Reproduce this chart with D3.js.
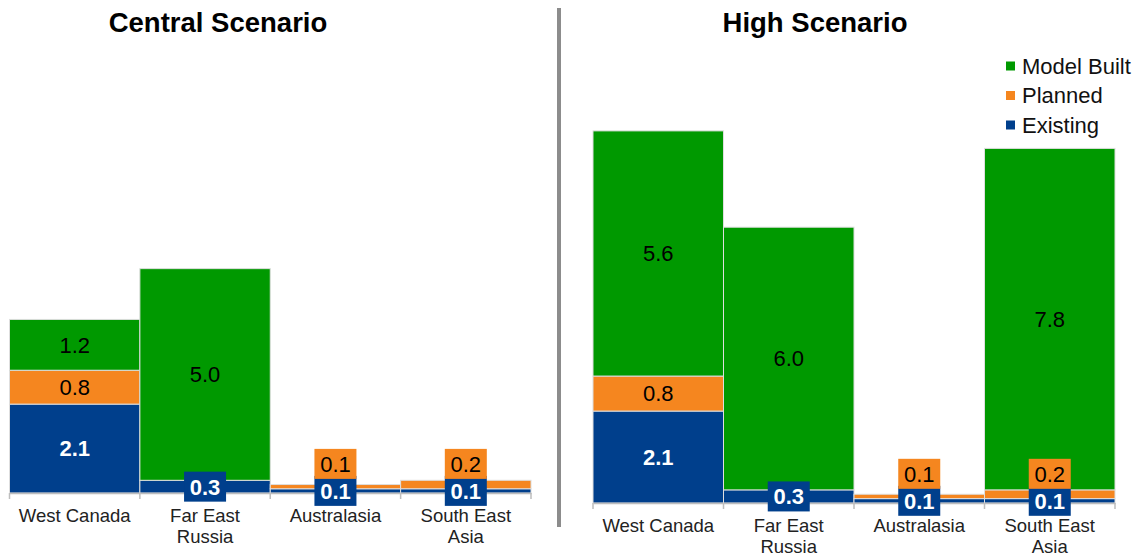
<!DOCTYPE html>
<html>
<head>
<meta charset="utf-8">
<script src="https://cdn.jsdelivr.net/npm/d3@7"></script>
<style>
  html, body { margin: 0; padding: 0; background: #fff; }
  svg { display: block; font-family: Arial, "Liberation Sans", sans-serif; }
</style>
</head>
<body>
<svg id="chart" width="1142" height="556"></svg>
<script>
// Regions shown on the x axis (label lines)
const categories = ["West Canada", "Far East Russia", "Australasia", "South East Asia"];
const categoryLines = [["West Canada"], ["Far East", "Russia"], ["Australasia"], ["South East", "Asia"]];

// Series, stacked bottom to top
const seriesNames = ["Existing", "Planned", "Model Built"];
const seriesColors = ["#003f8c", "#f5861f", "#009900"];

// Central scenario values
const centralExisting = [2.1, 0.3, 0.1, 0.1];
const centralPlanned = [0.8, 0.0, 0.1, 0.2];
const centralModel = [1.2, 5.0, 0.0, 0.0];

// High scenario values
const highExisting = [2.1, 0.3, 0.1, 0.1];
const highPlanned = [0.8, 0.0, 0.1, 0.2];
const highModel = [5.6, 6.0, 0.0, 7.8];

const panelTitles = ["Central Scenario", "High Scenario"];

const svg = d3.select("#chart");

function buildRows(existing, planned, model) {
  return categories.map((c, i) => ({
    category: c, "Existing": existing[i], "Planned": planned[i], "Model Built": model[i]
  }));
}

const panels = [
  { title: panelTitles[0], rows: buildRows(centralExisting, centralPlanned, centralModel),
    x0: 9.5, x1: 531, base: 493, top: 112, titleX: 218 },
  { title: panelTitles[1], rows: buildRows(highExisting, highPlanned, highModel),
    x0: 593, x1: 1115, base: 503, top: 109, titleX: 815 }
];

const stack = d3.stack().keys(seriesNames);
const boxW = 42, boxH = 30;

panels.forEach(p => {
  const g = svg.append("g");
  const x = d3.scaleBand().domain(categories).range([p.x0, p.x1]).padding(0);
  const y = d3.scaleLinear().domain([0, 9]).range([p.base, p.top]);
  const layers = stack(p.rows);

  // Title
  g.append("text")
    .attr("x", p.titleX).attr("y", 32)
    .attr("text-anchor", "middle")
    .attr("font-size", 27.5).attr("font-weight", "bold").attr("fill", "#000")
    .text(p.title);

  // Stacked segments
  layers.forEach((layer, li) => {
    g.append("g").selectAll("rect")
      .data(layer.filter(d => d[1] - d[0] > 0))
      .join("rect")
      .attr("x", d => x(d.data.category))
      .attr("width", x.bandwidth())
      .attr("y", d => y(d[1]))
      .attr("height", d => y(d[0]) - y(d[1]))
      .attr("fill", seriesColors[li])
      .attr("stroke", "#dedede")
      .attr("stroke-width", 1);
  });

  // Axis
  const axis = d3.axisBottom(x).tickSize(0).tickFormat("");
  const ag = g.append("g").attr("transform", `translate(0,${p.base})`).call(axis);
  ag.select(".domain").attr("stroke", "#bdbdbd").attr("stroke-width", 1.5);
  const bounds = d3.range(categories.length + 1).map(i => i === categories.length ? p.x1 : x(categories[i]));
  ag.selectAll("line.sep").data(bounds).join("line")
    .attr("class", "sep")
    .attr("x1", d => d).attr("x2", d => d)
    .attr("y1", 0).attr("y2", 6)
    .attr("stroke", "#bdbdbd").attr("stroke-width", 1.5);

  // Category labels
  categories.forEach((c, i) => {
    const t = g.append("text")
      .attr("x", x(c) + x.bandwidth() / 2)
      .attr("y", p.base + 29)
      .attr("text-anchor", "middle")
      .attr("font-size", 18.5).attr("fill", "#222");
    categoryLines[i].forEach((line, k) => {
      t.append("tspan").attr("x", x(c) + x.bandwidth() / 2).attr("dy", k === 0 ? 0 : 21).text(line);
    });
  });

  // Value labels
  const labels = g.append("g");
  categories.forEach((c, ci) => {
    const cx = x(c) + x.bandwidth() / 2;
    let prevBoxCenter = null;
    layers.forEach((layer, li) => {
      const d = layer[ci];
      const v = d[1] - d[0];
      if (v <= 0) { return; }
      const segTop = y(d[1]), segBot = y(d[0]);
      const segH = segBot - segTop;
      const textColor = li === 0 ? "#fff" : "#000";
      const weight = li === 0 ? "bold" : "normal";
      let cy = (segTop + segBot) / 2;
      if (segH < 26) {
        if (prevBoxCenter !== null) cy = prevBoxCenter - 27;
        labels.append("rect")
          .attr("x", cx - boxW / 2).attr("y", cy - boxH / 2)
          .attr("width", boxW).attr("height", boxH)
          .attr("fill", seriesColors[li]);
        prevBoxCenter = cy;
      } else {
        prevBoxCenter = null;
      }
      labels.append("text")
        .attr("x", cx).attr("y", cy)
        .attr("dy", "0.36em")
        .attr("text-anchor", "middle")
        .attr("font-size", 22).attr("font-weight", weight)
        .attr("fill", textColor)
        .text(d3.format(".1f")(v));
    });
  });
});

// Divider between the two panels
svg.append("line")
  .attr("x1", 559).attr("x2", 559).attr("y1", 8).attr("y2", 527)
  .attr("stroke", "#8c8c8c").attr("stroke-width", 4);

// Legend
const legendItems = ["Model Built", "Planned", "Existing"];
const legendColors = ["#009900", "#f5861f", "#003f8c"];
const lg = svg.append("g");
legendItems.forEach((name, i) => {
  const cy = 66 + i * 29.5;
  lg.append("rect").attr("x", 1006).attr("y", cy - 4.5).attr("width", 9).attr("height", 9).attr("fill", legendColors[i]);
  lg.append("text").attr("x", 1022).attr("y", cy).attr("dy", "0.36em")
    .attr("font-size", 22).attr("fill", "#111").text(name);
});
</script>
</body>
</html>
